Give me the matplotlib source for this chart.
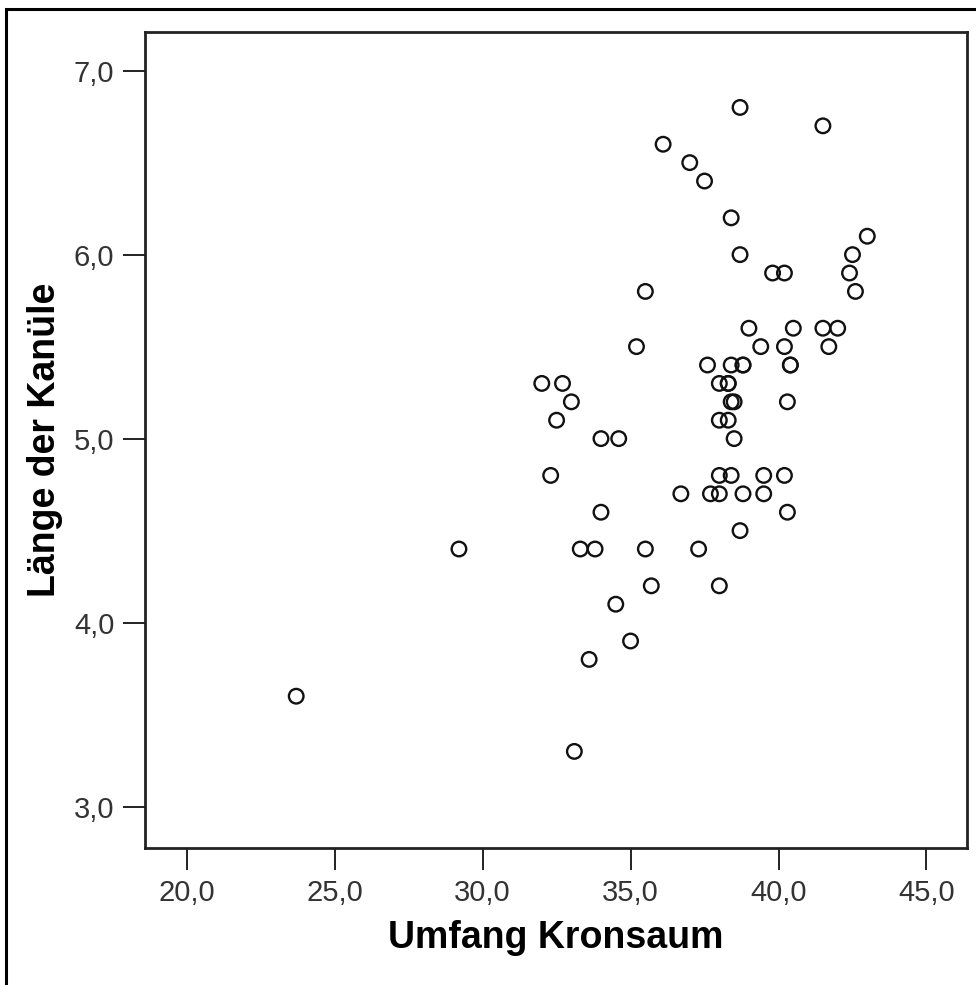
# Scatter: Umfang Kronsaum vs Länge der Kanüle (SPSS-style)
import matplotlib
matplotlib.use("Agg")
import matplotlib.pyplot as plt
from matplotlib.patches import Rectangle

umfang = [38.7, 41.5, 36.1, 37.0, 37.5, 38.4, 43.0, 38.7, 42.5,
          39.8, 40.2, 42.4, 35.5, 42.6, 39.0, 40.5, 41.5, 42.0,
          35.2, 39.4, 40.2, 41.7, 37.6, 38.4, 38.8, 38.8, 40.4, 40.4,
          32.0, 32.7, 38.0, 38.3, 38.3, 33.0, 38.4, 38.5, 40.3,
          32.5, 38.0, 38.3, 34.0, 34.6, 38.5,
          32.3, 38.0, 38.4, 39.5, 40.2, 36.7, 37.7, 38.0, 38.8, 39.5,
          34.0, 40.3, 38.7, 29.2, 33.3, 33.8, 35.5, 37.3,
          35.7, 38.0, 34.5, 35.0, 33.6, 23.7, 33.1]
laenge = [6.8, 6.7, 6.6, 6.5, 6.4, 6.2, 6.1, 6.0, 6.0,
          5.9, 5.9, 5.9, 5.8, 5.8, 5.6, 5.6, 5.6, 5.6,
          5.5, 5.5, 5.5, 5.5, 5.4, 5.4, 5.4, 5.4, 5.4, 5.4,
          5.3, 5.3, 5.3, 5.3, 5.3, 5.2, 5.2, 5.2, 5.2,
          5.1, 5.1, 5.1, 5.0, 5.0, 5.0,
          4.8, 4.8, 4.8, 4.8, 4.8, 4.7, 4.7, 4.7, 4.7, 4.7,
          4.6, 4.6, 4.5, 4.4, 4.4, 4.4, 4.4, 4.4,
          4.2, 4.2, 4.1, 3.9, 3.8, 3.6, 3.3]

xticks = [20, 25, 30, 35, 40, 45]
xticklabels = ["20,0", "25,0", "30,0", "35,0", "40,0", "45,0"]
yticks = [3, 4, 5, 6, 7]
yticklabels = ["3,0", "4,0", "5,0", "6,0", "7,0"]

W, H = 976, 985
fig = plt.figure(figsize=(W / 100, H / 100), dpi=100)
ax = fig.add_axes([145 / W, 1 - 848 / H, (967 - 145) / W, (848 - 32) / H])

ax.scatter(umfang, laenge, s=110, facecolors="none", edgecolors="#111111",
           linewidths=1.7, zorder=3)

ax.set_xlim(18.59, 46.37)
ax.set_ylim(2.775, 7.21)
ax.set_xticks(xticks)
ax.set_xticklabels(xticklabels)
ax.set_yticks(yticks)
ax.set_yticklabels(yticklabels)

for s in ax.spines.values():
    s.set_linewidth(2.0); s.set_color("#222222")
ax.tick_params(direction="out", length=16, width=1.4, color="#222222",
               labelsize=21, labelcolor="#333333", pad=6)
for t in ax.get_xticklabels() + ax.get_yticklabels():
    t.set_family(["Liberation Sans", "DejaVu Sans"])

lab = dict(fontsize=27, fontweight="bold", family=["Liberation Sans", "DejaVu Sans"])
ax.set_xlabel("Umfang Kronsaum", labelpad=10, **lab)
ax.set_ylabel("Länge der Kanüle", labelpad=8, **lab)

# outer frame (left/top visible, right/bottom run off the canvas)
fig.patches.append(Rectangle((6 / W, -0.05), 1.1, 1 - 9 / H + 0.05,
                             transform=fig.transFigure, fill=False,
                             edgecolor="black", linewidth=2.2))

fig.savefig("out.png", dpi=100)
